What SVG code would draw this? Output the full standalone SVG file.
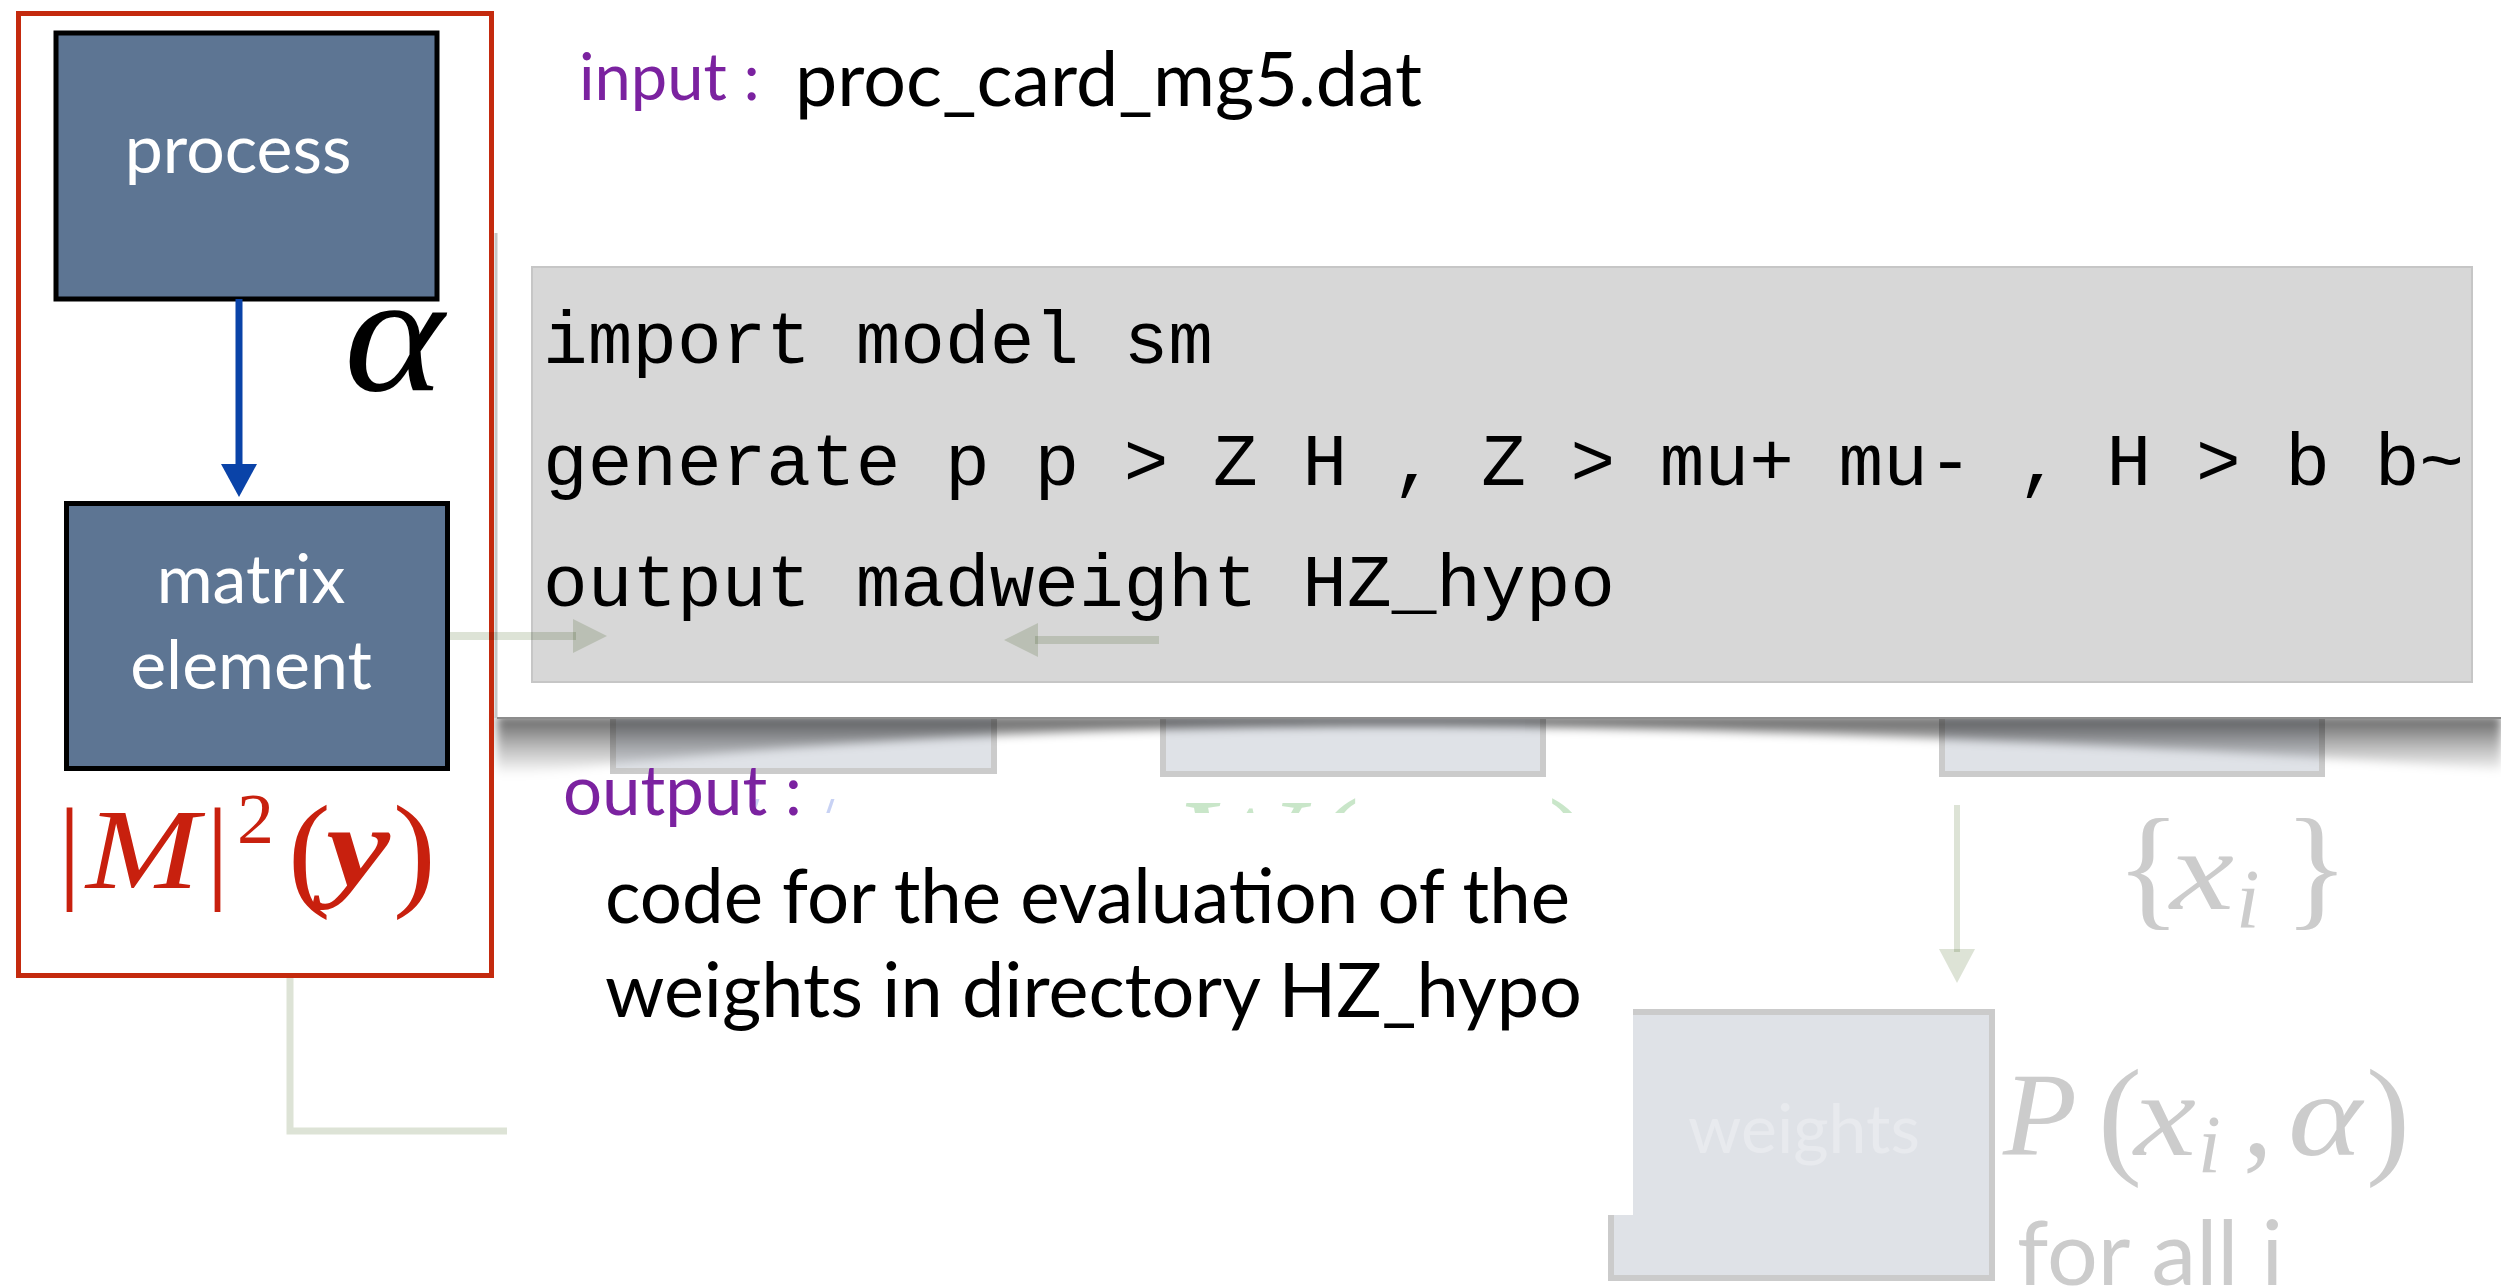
<svg xmlns="http://www.w3.org/2000/svg" width="2501" height="1287" viewBox="0 0 2501 1287">
<defs>
<style>
.sans{font-family:Lato,"Open Sans","Liberation Sans",sans-serif}
.serif{font-family:"Liberation Serif","DejaVu Serif",serif}
.mono{font-family:"Liberation Mono","DejaVu Sans Mono",monospace;font-size:74.5px;fill:#000}
.dark{fill:#5d7593;stroke:#000;stroke-width:5}
.ghost{fill:#dfe2e7;stroke:#cbcbcb;stroke-width:6}
.green{stroke:#dde3d6;fill:none;mix-blend-mode:multiply}
.greenf{fill:#dde3d6;mix-blend-mode:multiply}
.faint{fill:#cccccc}
.red{fill:#c8200e}
.purple{fill:#7b22a0}
</style>
<linearGradient id="shg" x1="0" y1="716" x2="0" y2="775" gradientUnits="userSpaceOnUse">
<stop offset="0" stop-color="#000" stop-opacity="0.62"/>
<stop offset="0.5" stop-color="#000" stop-opacity="0.28"/>
<stop offset="1" stop-color="#000" stop-opacity="0"/>
</linearGradient>
<filter id="blur" x="-5%" y="-100%" width="110%" height="300%"><feGaussianBlur stdDeviation="5"/></filter>
<clipPath id="cutTop"><rect x="500" y="760" width="1200" height="53"/></clipPath>
</defs>
<rect width="2501" height="1287" fill="#fff"/>

<!-- background (faded) nodes -->
<g id="ghost-box-a"><rect class="ghost" x="613" y="504" width="381" height="267"/></g>
<g id="ghost-box-b"><rect class="ghost" x="1163" y="507" width="380" height="267"/></g>
<g id="ghost-box-c"><rect class="ghost" x="1942" y="507" width="380" height="267"/></g>
<g id="weights-node">
<rect class="ghost" x="1611" y="1012" width="381" height="266"/>
</g>
<g id="hidden-formulas" clip-path="url(#cutTop)">
<text class="serif" x="1176" y="882" font-size="120" font-style="italic" fill="#c9e6c9" textLength="124" lengthAdjust="spacingAndGlyphs">W</text>
<text class="serif" x="1316" y="888" font-size="130" fill="#c9e6c9">(</text>
<text class="serif" x="1548" y="888" font-size="130" fill="#c9e6c9">)</text>
<text class="serif" x="740" y="845" font-size="70" fill="#c8d2f4">/</text>
<text class="serif" x="815" y="845" font-size="70" fill="#c8d2f4">/</text>
</g>
<rect x="507" y="813" width="1126" height="402" fill="#fff"/>
<text class="sans" x="1804" y="1153" font-size="68" fill="#e8eaee" text-anchor="middle">weights</text>

<!-- panel with curled shadow -->
<path d="M497,716 L2501,716 L2501,770 C2200,748 1750,726 1400,726 C1050,726 750,745 497,778 Z" fill="url(#shg)" filter="url(#blur)"/>
<g id="code-panel">
<rect x="497" y="233" width="2010" height="485" fill="#fff"/>
<line x1="496" y1="233" x2="496" y2="718" stroke="#c6c6c6" stroke-width="3"/>
<line x1="497" y1="718" x2="2501" y2="718" stroke="#8c8c8c" stroke-width="2"/>
<rect x="532" y="267" width="1940" height="415" fill="#d7d7d7" stroke="#c6c6c6" stroke-width="2"/>
<text class="mono" x="543" y="363" textLength="670" lengthAdjust="spacingAndGlyphs">import model sm</text>
<text class="mono" x="543" y="485" textLength="1921" lengthAdjust="spacingAndGlyphs">generate p p &gt; Z H , Z &gt; mu+ mu- , H &gt; b b~</text>
<text class="mono" x="543" y="606" textLength="1072" lengthAdjust="spacingAndGlyphs">output madweight HZ_hypo</text>
</g>

<!-- left block -->
<g id="red-frame"><rect x="18.5" y="13.5" width="473" height="962" fill="none" stroke="#c42a0e" stroke-width="5"/></g>
<g id="process-node">
<rect class="dark" x="56" y="33" width="381" height="266"/>
<text class="sans" x="238" y="173" font-size="68" fill="#fff" text-anchor="middle">process</text>
</g>
<g id="matrix-node">
<rect class="dark" x="66.5" y="503.5" width="381" height="265"/>
<text class="sans" x="251" y="603" font-size="68" fill="#fff" text-anchor="middle">matrix</text>
<text class="sans" x="251" y="689" font-size="68" fill="#fff" text-anchor="middle">element</text>
</g>
<g id="alpha-label">
<text class="serif" x="344" y="390" font-size="170" font-style="italic" fill="#000" textLength="100" lengthAdjust="spacingAndGlyphs">α</text>
</g>
<g id="m2-label" class="red">
<text class="serif" x="58" y="888" font-size="115">|</text>
<text class="serif" x="86" y="888" font-size="115" font-style="italic" textLength="113" lengthAdjust="spacingAndGlyphs">M</text>
<text class="serif" x="206" y="888" font-size="115">|</text>
<text class="serif" x="237" y="843" font-size="72" textLength="37" lengthAdjust="spacingAndGlyphs">2</text>
<text class="serif" x="288" y="893" font-size="128">(</text>
<text class="serif" x="326" y="886" font-size="115" font-style="italic" font-weight="bold" textLength="64" lengthAdjust="spacingAndGlyphs">y</text>
<text class="serif" x="393" y="893" font-size="128">)</text>
</g>

<!-- texts -->
<g id="input-label">
<text class="sans purple" x="579" y="100" font-size="65">input :</text>
<text class="sans" x="795" y="106" font-size="75" fill="#000" textLength="627" lengthAdjust="spacingAndGlyphs">proc_card_mg5.dat</text>
</g>
<g id="output-label">
<text class="sans purple" x="563" y="815" font-size="69">output :</text>
<text class="sans" x="605" y="923" font-size="75" fill="#000" textLength="965" lengthAdjust="spacingAndGlyphs">code for the evaluation of the</text>
<text class="sans" x="605" y="1017" font-size="75" fill="#000" textLength="977" lengthAdjust="spacingAndGlyphs">weights in directory HZ_hypo</text>
</g>
<g id="xi-label" class="faint">
<text class="serif" x="2116" y="912" font-size="135">{</text>
<text class="serif" x="2170" y="909" font-size="115" font-style="italic" textLength="64" lengthAdjust="spacingAndGlyphs">x</text>
<text class="serif" x="2236" y="928" font-size="85" font-style="italic">i</text>
<text class="serif" x="2284" y="912" font-size="135">}</text>
</g>
<g id="p-label" class="faint">
<text class="serif" x="2003" y="1155" font-size="118" font-style="italic" textLength="74" lengthAdjust="spacingAndGlyphs">P</text>
<text class="serif" x="2098" y="1160" font-size="132">(</text>
<text class="serif" x="2134" y="1155" font-size="118" font-style="italic" textLength="62" lengthAdjust="spacingAndGlyphs">x</text>
<text class="serif" x="2198" y="1172" font-size="82" font-style="italic">i</text>
<text class="serif" x="2243" y="1155" font-size="118">,</text>
<text class="serif" x="2288" y="1155" font-size="118" font-style="italic" textLength="74" lengthAdjust="spacingAndGlyphs">α</text>
<text class="serif" x="2366" y="1160" font-size="132">)</text>
<text class="sans" x="2017" y="1285" font-size="90" textLength="266" lengthAdjust="spacingAndGlyphs">for all i</text>
</g>

<!-- connectors -->
<g id="connectors">
<line x1="239" y1="299" x2="239" y2="467" stroke="#0a43a8" stroke-width="7"/>
<polygon points="221,464 257,464 239,497" fill="#0a43a8"/>
<line class="green" x1="450" y1="636" x2="576" y2="636" stroke-width="8"/>
<polygon class="greenf" points="573,619 607,636 573,653"/>
<line class="green" x1="1159" y1="640" x2="1035" y2="640" stroke-width="8"/>
<polygon class="greenf" points="1038,623 1004,640 1038,657"/>
<polyline class="green" points="290,978 290,1131 507,1131" stroke-width="7"/>
<line class="green" x1="1957" y1="805" x2="1957" y2="952" stroke-width="6"/>
<polygon class="greenf" points="1939,949 1975,949 1957,983"/>
</g>
</svg>
